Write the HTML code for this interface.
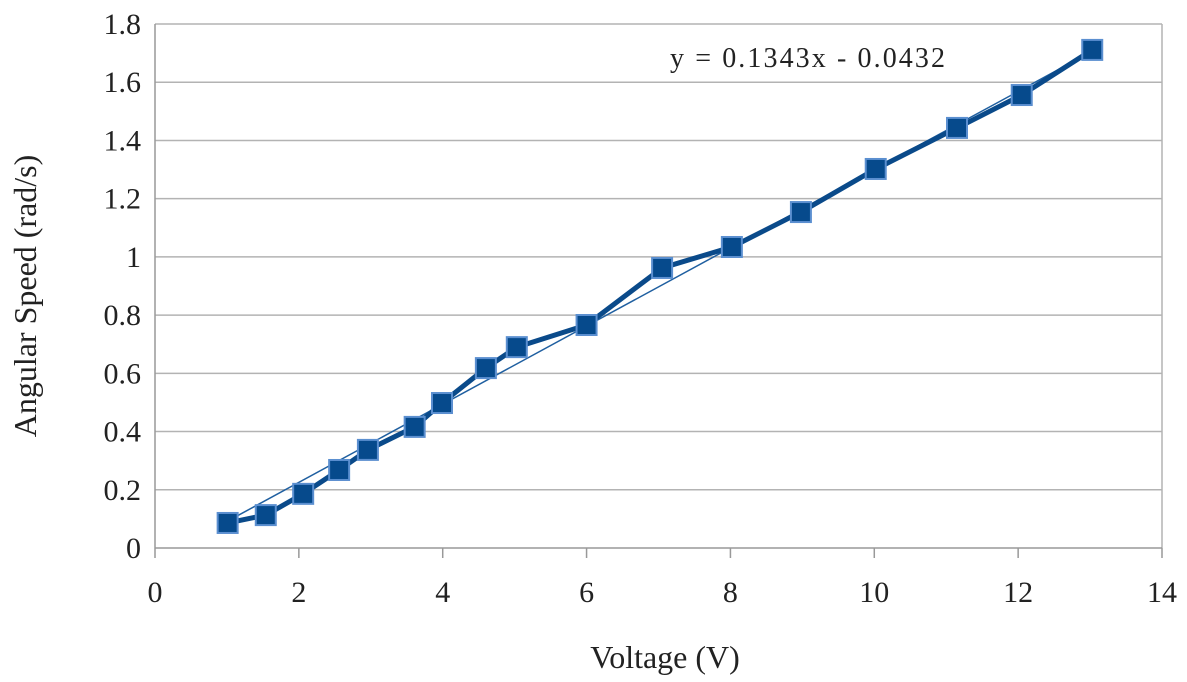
<!DOCTYPE html>
<html><head><meta charset="utf-8"><style>
body{margin:0;background:#fff;}
svg{display:block;font-family:"Liberation Serif",serif;}
</style></head><body>
<svg id="chart" width="1187" height="682">
<g id="grid"></g><g id="axes"></g><g id="series"></g><g id="labels"></g>
</svg>
<script>
const xValues=[1.01,1.54,2.06,2.56,2.96,3.61,3.99,4.6,5.03,6.0,7.05,8.02,8.98,10.02,11.15,12.05,13.03];
const yValues=[0.086,0.113,0.186,0.268,0.337,0.416,0.498,0.618,0.69,0.766,0.962,1.034,1.154,1.302,1.443,1.556,1.711];
const xTicks=[0,2,4,6,8,10,12,14];
const yTicks=[0,0.2,0.4,0.6,0.8,1,1.2,1.4,1.6,1.8];
const slope=0.1343, intercept=-0.0432;
const X0=155,X1=1162,Y0=548,Y1=24;
const sx=v=>X0+(v-0)/14*(X1-X0);
const sy=v=>Y0-(v-0)/1.8*(Y0-Y1);
const NS="http://www.w3.org/2000/svg";
function mk(t,p,a){const e=document.createElementNS(NS,t);for(const k in a)e.setAttribute(k,a[k]);p.appendChild(e);return e;}
const grid=document.getElementById('grid'),axes=document.getElementById('axes'),series=document.getElementById('series'),labels=document.getElementById('labels');
yTicks.forEach(t=>{
 if(t>0){const l=mk('line',grid,{x1:X0,x2:X1,y1:sy(t),y2:sy(t),stroke:'#b3b3b3','stroke-width':1.5});
 }
 const tx=mk('text',labels,{x:X0-14,y:sy(t)+10,'text-anchor':'end','font-size':30,fill:'#222'});tx.textContent=t;
 
});
const fr=mk('line',grid,{x1:X1,x2:X1,y1:Y1,y2:Y0,stroke:'#b3b3b3','stroke-width':1.5});

const ya=mk('line',axes,{x1:X0,x2:X0,y1:Y1,y2:Y0,stroke:'#999','stroke-width':1.5});

const xa=mk('line',axes,{x1:X0,x2:X1,y1:Y0,y2:Y0,stroke:'#999','stroke-width':1.5});

xTicks.forEach(t=>{
 const tk=mk('line',axes,{x1:sx(t),x2:sx(t),y1:Y0,y2:Y0+10,stroke:'#999','stroke-width':1.5});
 
 const tx=mk('text',labels,{x:sx(t),y:Y0+54,'text-anchor':'middle','font-size':30,fill:'#222'});tx.textContent=t;
 
});
const xmin=xValues[0],xmax=xValues[xValues.length-1];
const tl=mk('line',series,{x1:sx(xmin),y1:sy(slope*xmin+intercept),x2:sx(xmax),y2:sy(slope*xmax+intercept),stroke:'#1f5fa0','stroke-width':1.5});

const pts=xValues.map((x,i)=>sx(x)+','+sy(yValues[i])).join(' ');
const pl=mk('polyline',series,{points:pts,fill:'none',stroke:'#0a4a8a','stroke-width':5,'stroke-linejoin':'round'});

xValues.forEach((x,i)=>{
 const r=mk('rect',series,{x:sx(x)-10,y:sy(yValues[i])-10,width:20,height:20,fill:'#064a8c',stroke:'#5b8fd0','stroke-width':2});
 
});
const eq=mk('text',labels,{x:670,y:67,'font-size':28,fill:'#222',textLength:275,lengthAdjust:'spacing'});eq.textContent='y = 0.1343x - 0.0432';

const xt=mk('text',labels,{x:665,y:668,'text-anchor':'middle','font-size':32,fill:'#222'});xt.textContent='Voltage (V)';

const yt=mk('text',labels,{x:36,y:296,'text-anchor':'middle','font-size':32,fill:'#222',transform:'rotate(-90 36 296)'});yt.textContent='Angular  Speed (rad/s)';

</script>
</body></html>
